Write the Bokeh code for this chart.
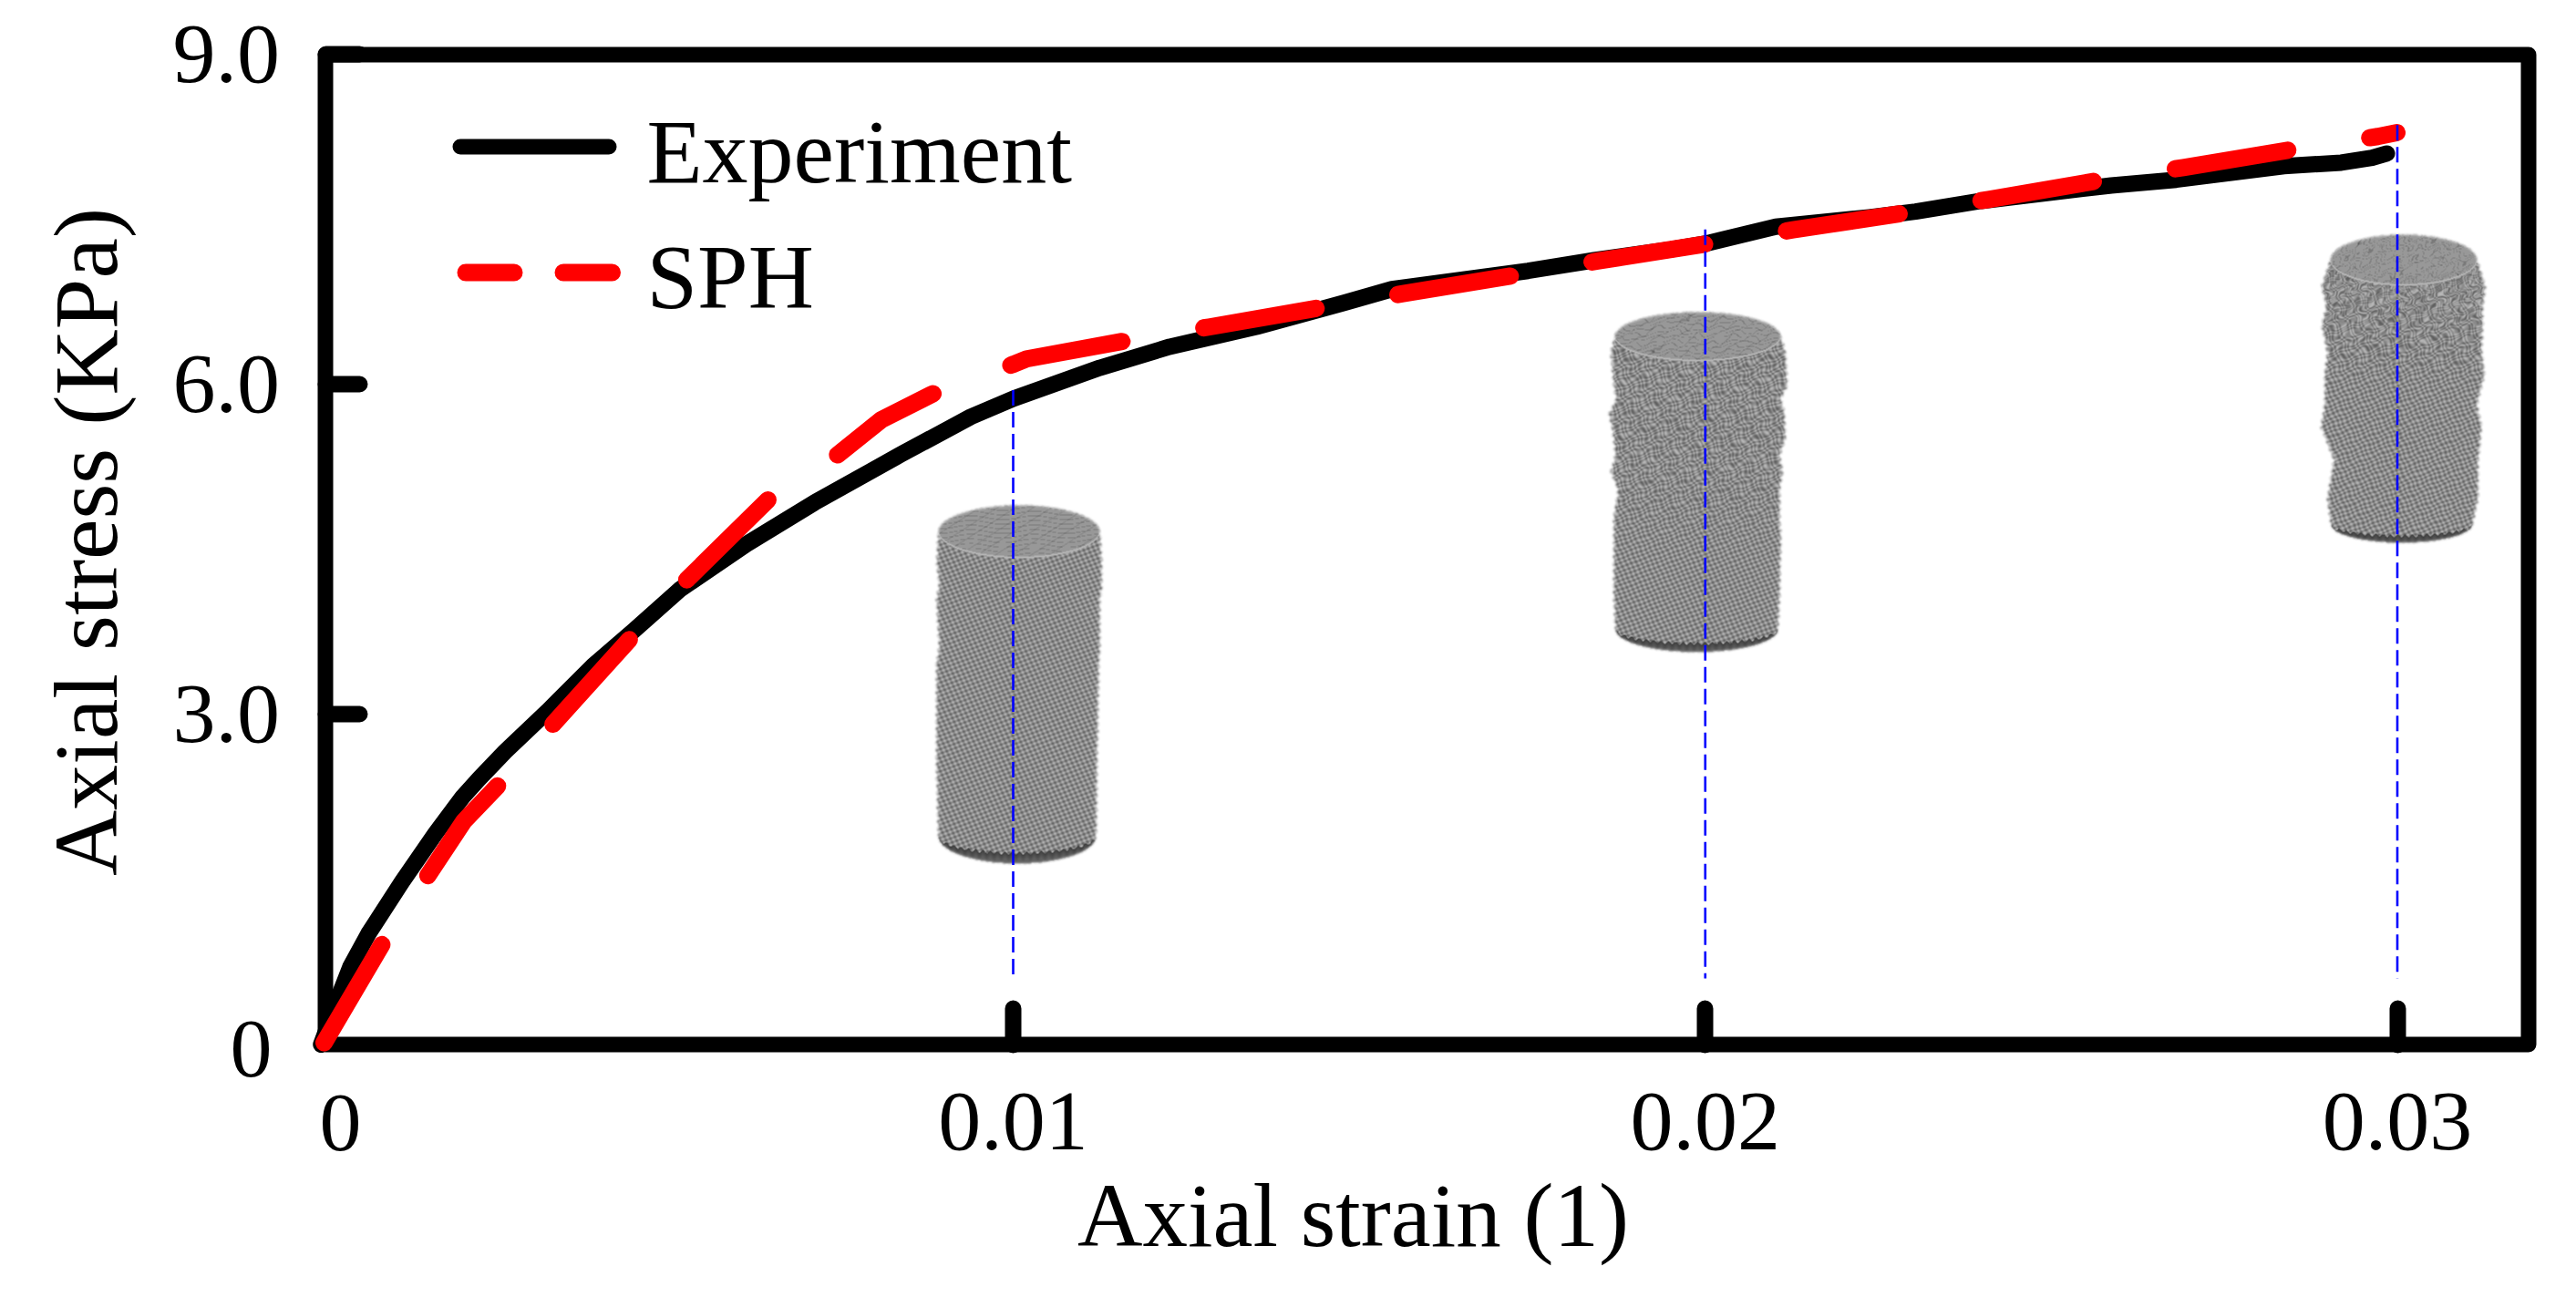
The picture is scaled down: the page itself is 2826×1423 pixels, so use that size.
import numpy as np
from bokeh.plotting import figure
from bokeh.models import LinearAxis, FixedTicker, Range1d
from bokeh.core.properties import value
from bokeh.embed import file_html
from bokeh.resources import INLINE

# ---------------- data ----------------
exp_strain = [0.0, 0.135, 0.267, 0.421, 0.684, 1.166, 1.650, 2.045, 2.282, 2.660, 3.270, 3.928, 4.508, 5.189, 6.146, 7.129,
              8.380, 9.389, 10.008, 11.251, 12.261, 13.517, 14.781, 15.473, 17.439, 18.396, 19.506,
              20.010, 21.018, 22.368, 23.039, 23.983, 25.866, 26.806, 28.361, 29.190, 29.635, 29.849]
exp_stress = [0.0, 0.228, 0.454, 0.703, 1.007, 1.477, 1.918, 2.250, 2.416, 2.664, 3.029, 3.443, 3.758, 4.139, 4.550, 4.927,
              5.366, 5.708, 5.874, 6.153, 6.344, 6.526, 6.744, 6.868, 7.034, 7.131, 7.230,
              7.283, 7.435, 7.521, 7.573, 7.670, 7.811, 7.863, 7.987, 8.018, 8.062, 8.101]
sph_strain = [0.043, 0.879, 1.544, 2.063, 2.568, 3.358, 4.472, 5.298, 6.457, 7.466, 8.096, 8.894, 10.008,
              10.195, 11.632, 12.832, 14.425, 15.635, 17.244, 18.443, 20.060, 21.269, 22.862, 24.093,
              25.673, 26.908, 28.500, 29.717, 29.994]
sph_stress = [0.016, 0.910, 1.537, 2.030, 2.363, 2.918, 3.694, 4.234, 4.952, 5.363, 5.681, 5.934, 6.186,
              6.234, 6.399, 6.524, 6.698, 6.827, 6.993, 7.123, 7.283, 7.407, 7.559, 7.684,
              7.854, 7.974, 8.140, 8.256, 8.291]
marker_strain = [0.01, 0.02, 0.03]
marker_top = [5.95, 7.41, 8.36]
marker_bottom = [0.60, 0.60, 0.60]
x_ticks = [0.01, 0.02, 0.03]
x_labels = ["0.01", "0.02", "0.03"]
y_ticks = [3, 6, 9]
y_labels = ["3.0", "6.0", "9.0"]
legend_names = ["Experiment", "SPH"]
x_title = "Axial strain (1)"
y_title = "Axial stress (KPa)"

# silhouettes of the three specimens, in page pixels: row, left edge, right edge
cyl1 = dict(top=583, top_hh=29, bot_hh=30, rough=0.0,
            rows=[583, 617, 643, 657, 710, 727, 833, 917],
            left=[1029, 1027.3, 1030, 1027, 1030, 1027, 1027, 1029],
            right=[1206, 1208, 1208, 1206, 1206, 1205, 1203, 1202])
cyl2 = dict(top=369, top_hh=27, bot_hh=25, rough=0.6,
            rows=[369, 387, 423, 437, 453, 480, 500, 517, 537, 567, 587, 653, 690],
            left=[1771, 1766.7, 1770, 1773, 1765, 1770, 1771.7, 1766.7, 1775, 1770, 1770, 1770, 1771.7],
            right=[1953, 1958.3, 1960, 1953, 1957, 1958, 1951.7, 1955, 1951.7, 1951.7, 1953, 1951.7, 1950])
cyl3 = dict(top=285, top_hh=28, bot_hh=20, rough=1.5,
            rows=[285, 314, 336, 357, 386, 411, 443, 468, 504, 546, 575],
            left=[2556, 2546.7, 2551.7, 2546.7, 2553, 2550, 2550, 2546, 2560, 2553, 2556.7],
            right=[2717, 2726, 2723, 2723, 2722, 2725, 2716.7, 2721.7, 2718, 2718, 2711.7])

# ---------------- page-pixel scale of the axes ----------------
PX_X0, PX_PER_X = 351.75, 75925.0
PX_Y0, PX_PER_Y = 1145.5, 120.67
W, H = 2810, 1400
ORIGIN = 0


def X(px):
    return (px - PX_X0) / PX_PER_X


def Y(py):
    return (PX_Y0 - py) / PX_PER_Y


p = figure(width=W, height=H, output_backend="svg", toolbar_location=None, tools="",
           x_axis_location=None, y_axis_location=None,
           x_range=Range1d(X(ORIGIN), X(ORIGIN + W)), y_range=Range1d(Y(ORIGIN + H), Y(ORIGIN)),
           min_border=0, min_border_left=0, min_border_right=0, min_border_top=0, min_border_bottom=0,
           outline_line_color=None, background_fill_color="white", border_fill_color="white")
p.grid.visible = False

SERIF = "Liberation Serif"

# frame
LEFT, RIGHT, TOP, BOTTOM = X(356.5), X(2773.5), Y(59.5), Y(1145.5)
p.line([LEFT, RIGHT, RIGHT, LEFT, LEFT], [BOTTOM, BOTTOM, TOP, TOP, BOTTOM],
       line_color="black", line_width=17, line_join="round", line_cap="round")

# axes
xa = LinearAxis(fixed_location=0, ticker=FixedTicker(ticks=x_ticks),
                major_label_overrides=dict(zip(x_ticks, x_labels)),
                axis_line_color=None, major_tick_in=40, major_tick_out=0,
                minor_tick_line_color=None, major_tick_line_width=18,
                major_tick_line_color="black", major_tick_line_cap="round",
                major_label_standoff=54, major_label_text_font=SERIF,
                major_label_text_font_size="94px", major_label_text_color="black")
ya = LinearAxis(fixed_location=X(356.5), ticker=FixedTicker(ticks=y_ticks),
                major_label_overrides=dict(zip(y_ticks, y_labels)),
                axis_line_color=None, major_tick_in=37, major_tick_out=0,
                minor_tick_line_color=None, major_tick_line_width=18,
                major_tick_line_color="black", major_tick_line_cap="round",
                major_label_standoff=50, major_label_text_font=SERIF,
                major_label_text_font_size="94px", major_label_text_color="black")
p.add_layout(xa, "below")
p.add_layout(ya, "left")


# specimens
def specimen(c):
    rows = np.array(c["rows"], float)
    lft = np.array(c["left"], float)
    rgt = np.array(c["right"], float)
    yb = rows[-1]
    x0 = int(lft.min()) - 6
    x1 = int(rgt.max()) + 6
    y0 = int(rows[0] - c["top_hh"]) - 4
    y1 = int(yb + c["bot_hh"]) + 5
    xx, yy = np.meshgrid(np.arange(x0, x1) + 0.5, np.arange(y0, y1) + 0.5)
    L = np.interp(yy, rows, lft) + 1.2 * np.sin(yy * 0.8)
    R = np.interp(yy, rows, rgt) + 1.2 * np.sin(yy * 0.8 + 1)
    cxt, hwt = (lft[0] + rgt[0]) / 2, (rgt[0] - lft[0]) / 2
    cxb, hwb = (lft[-1] + rgt[-1]) / 2, (rgt[-1] - lft[-1]) / 2
    st = np.sqrt(np.clip(1 - ((xx - cxt) / hwt) ** 2, 0, 1))
    sb = np.sqrt(np.clip(1 - ((xx - cxb) / hwb) ** 2, 0, 1))
    in_top = (np.abs(xx - cxt) <= hwt) & (np.abs(yy - c["top"]) <= c["top_hh"] * st)
    in_body = (yy >= c["top"]) & (yy <= yb) & (xx >= L) & (xx <= R)
    in_bot = (np.abs(xx - cxb) <= hwb) & (yy >= yb) & (yy <= yb + c["bot_hh"] * sb)
    mask = (in_top | in_body | in_bot).astype(float)
    # soft edge
    for _ in range(2):
        m = mask.copy()
        m[1:-1, 1:-1] = sum(mask[1 + a:mask.shape[0] - 1 + a, 1 + b:mask.shape[1] - 1 + b]
                            for a in (-1, 0, 1) for b in (-1, 0, 1)) / 9
        mask = m
    # lattice of particles on the surface, disturbed where the specimen has buckled
    amount = c["rough"] * np.clip((yb - 90 * c["rough"] - yy) / 120, 0.15, 1) if c["rough"] else 0.0
    wx = xx + amount * (2.2 * np.sin(yy * 0.31 + xx * 0.13) + 1.6 * np.sin(xx * 0.47 - yy * 0.19))
    wy = yy + amount * (2.2 * np.sin(xx * 0.29 + yy * 0.11) + 1.6 * np.sin(yy * 0.53 + xx * 0.17))
    u = (wx + 0.5 * wy) / 8.0
    v = (wy - 0.35 * wx) / 7.0
    g = 140 + 46 * np.sin(2 * np.pi * u) * np.sin(2 * np.pi * v)
    # dark underside
    inner = yb + c["bot_hh"] * 0.62 * sb + 1.5 * np.sin(2 * np.pi * xx / 8)
    under = in_bot & (yy > inner)
    g = np.where(under, 62 + 35 * np.clip((yy - inner) / 8, 0, 1), g)
    # top face with faint cells and a bright front rim
    cells = 152 - 30 * (np.abs(np.sin(wy * 0.62 + 1.3 * np.sin(wx * 0.09))) < 0.22) \
        - 22 * (np.abs(np.sin(wx * 0.16 + wy * 0.25)) < 0.12)
    g = np.where(in_top, cells, g)
    rim = in_top & (yy > c["top"] + c["top_hh"] * st - 2.0)
    g = np.where(rim, 180, g)
    g = np.clip(g, 0, 255).astype(np.uint8)
    a = np.clip(mask * 255, 0, 255).astype(np.uint8)
    img = np.empty(g.shape, dtype=np.uint32)
    view = img.view(np.uint8).reshape(g.shape + (4,))
    view[..., 0] = g
    view[..., 1] = g
    view[..., 2] = g
    view[..., 3] = a
    img = img[::-1]
    p.image_rgba(image=[img], x=[X(x0)], y=[Y(y1)], dw=[(x1 - x0) / PX_PER_X], dh=[(y1 - y0) / PX_PER_Y])


for c in (cyl1, cyl2, cyl3):
    specimen(c)

# curves
p.line([s / 1000 for s in exp_strain], exp_stress, line_color="black", line_width=18,
       line_cap="round", line_join="round")
p.line([s / 1000 for s in sph_strain], sph_stress, line_color="#ff0000", line_width=19,
       line_cap="round", line_join="round", line_dash="125 91")

# drop lines to the specimens
for xm, yt, yb_ in zip(marker_strain, marker_top, marker_bottom):
    p.line([xm, xm], [yt, yb_], line_color="#0000ff", line_width=2.6, line_dash="17 7")

# zero labels, which sit apart from the tick positions
p.text([X(373)], [Y(1231)], text=["0"], text_font=value(SERIF), text_font_size="92px",
       text_align="center", text_baseline="middle", text_color="black")
p.text([X(275)], [Y(1150)], text=["0"], text_font=value(SERIF), text_font_size="92px",
       text_align="center", text_baseline="middle", text_color="black")

# axis titles (anchored on the middle of the letters)
p.text([X(1484)], [Y(1333)], text=[x_title], text_font=value(SERIF), text_font_size="99px",
       text_align="center", text_baseline="middle", text_color="black")
p.text([X(94)], [Y(594)], text=[y_title], angle=np.pi / 2, text_font=value(SERIF), text_font_size="100px",
       text_align="center", text_baseline="middle", text_color="black")

# legend
p.line([X(504.5), X(667.5)], [Y(160.5), Y(160.5)], line_color="black", line_width=17, line_cap="round")
p.line([X(510.5), X(563.5), np.nan, X(617.5), X(671)], [Y(298.5), Y(298.5), np.nan, Y(298.5), Y(298.5)],
       line_color="#ff0000", line_width=19, line_cap="round")
p.text([X(709), X(709)], [Y(166), Y(303)], text=legend_names, text_font=value(SERIF), text_font_size="100px",
       text_align="left", text_baseline="middle", text_color="black")

open("out.html", "w").write(file_html(p, INLINE))
